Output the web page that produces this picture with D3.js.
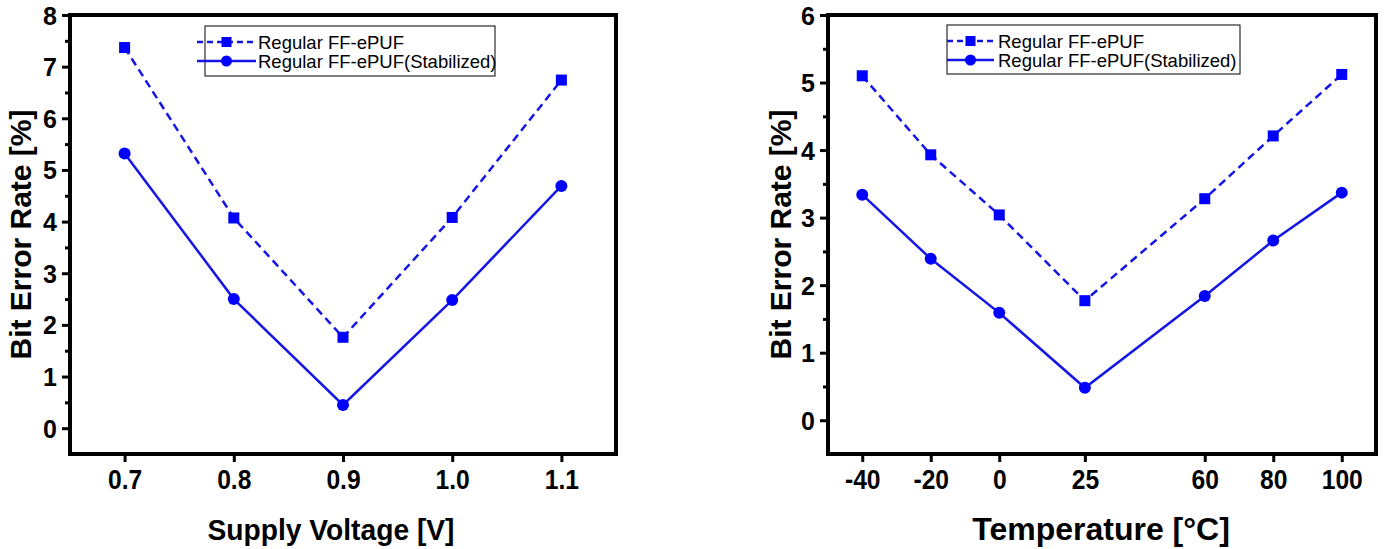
<!DOCTYPE html>
<html><head><meta charset="utf-8">
<script src="https://cdn.jsdelivr.net/npm/d3@7"></script>
<style>body{margin:0;background:#fff}svg{display:block}text{font-family:"Liberation Sans",Arial,sans-serif}</style>
</head><body><svg id="c" width="1384" height="549"></svg>
<script>
const voltages = [0.7, 0.8, 0.9, 1.0, 1.1];
const voltTickLabels = ["0.7", "0.8", "0.9", "1.0", "1.1"];
const voltRegular = [7.37, 4.07, 1.76, 4.08, 6.74];
const voltStabilized = [5.32, 2.50, 0.45, 2.48, 4.69];

const temps = [-40, -20, 0, 25, 60, 80, 100];
const tempTickLabels = ["-40", "-20", "0", "25", "60", "80", "100"];
const tempRegular = [5.10, 3.93, 3.04, 1.77, 3.28, 4.21, 5.12];
const tempStabilized = [3.34, 2.39, 1.59, 0.48, 1.84, 2.66, 3.37];

const seriesNames = ["Regular FF-ePUF", "Regular FF-ePUF(Stabilized)"];

const svg = d3.select("#c");
const blue = "#0000ff", lineBlue = "#1515e6";

function panel(o) {
  const g = svg.append("g");
  const x = d3.scaleLinear().domain(o.xDomain).range([o.left, o.right]);
  const y = d3.scaleLinear().domain(o.yDomain).range([o.bottom, o.top]);

  const yAxisMinor = d3.axisLeft(y).tickValues(d3.range(0.5, o.yDomain[1], 1))
    .tickSize(5).tickFormat("");
  g.append("g").attr("transform", `translate(${o.left},0)`).call(yAxisMinor)
    .call(a => a.select(".domain").remove())
    .call(a => a.selectAll("line").attr("stroke", "#000").attr("stroke-width", 3));
  const yAxis = d3.axisLeft(y).tickValues(d3.range(0, o.yDomain[1] + 0.001, 1)).tickSize(8).tickPadding(5).tickFormat(d3.format("d"));
  g.append("g").attr("transform", `translate(${o.left},0)`).call(yAxis)
    .call(a => a.select(".domain").remove())
    .call(a => a.selectAll("line").attr("stroke", "#000").attr("stroke-width", 3))
    .call(a => a.selectAll("text").attr("font-size", 25).attr("font-weight", "bold").attr("fill", "#000").attr("dy", "0.36em"));

  const xAxis = d3.axisBottom(x).tickValues(o.xs).tickSize(8).tickPadding(7).tickFormat((d, i) => o.xLabels[i]);
  g.append("g").attr("transform", `translate(0,${o.bottom})`).call(xAxis)
    .call(a => a.select(".domain").remove())
    .call(a => a.selectAll("line").attr("stroke", "#000").attr("stroke-width", 3))
    .call(a => a.selectAll("text").attr("font-size", 28).attr("font-weight", "bold").attr("fill", "#000")
      .attr("transform", "scale(0.88,1)"));

  g.append("rect").attr("x", o.left).attr("y", o.top).attr("width", o.right - o.left).attr("height", o.bottom - o.top)
    .attr("fill", "none").attr("stroke", "#000").attr("stroke-width", 4);

  const line = d3.line().x((d, i) => x(o.xs[i])).y(d => y(d));
  g.append("path").datum(o.reg).attr("d", line).attr("fill", "none").attr("stroke", lineBlue)
    .attr("stroke-width", 2.5).attr("stroke-dasharray", "8,5");
  g.append("path").datum(o.stab).attr("d", line).attr("fill", "none").attr("stroke", lineBlue).attr("stroke-width", 2.5);
  g.selectAll(".sq").data(o.reg).join("rect").attr("x", (d, i) => x(o.xs[i]) - 5.5).attr("y", d => y(d) - 5.5)
    .attr("width", 11).attr("height", 11).attr("fill", blue);
  g.selectAll(".ci").data(o.stab).join("circle").attr("cx", (d, i) => x(o.xs[i])).attr("cy", d => y(d))
    .attr("r", 6).attr("fill", blue);

  g.append("text").attr("transform", `translate(${o.xTitleX},540) scale(${o.xTitleScale},1)`).attr("text-anchor", "middle")
    .attr("font-size", o.xTitleSize).attr("font-weight", "bold").text(o.xTitle);
  g.append("text").attr("transform", `translate(${o.yTitleX},${(o.top + o.bottom) / 2}) rotate(-90)`)
    .attr("text-anchor", "middle").attr("font-size", 30).attr("font-weight", "bold").text("Bit Error Rate [%]");

  const L = o.legend;
  g.append("rect").attr("x", L.x).attr("y", L.y).attr("width", L.w).attr("height", L.h)
    .attr("fill", "#fff").attr("stroke", "#000").attr("stroke-width", 1);
  seriesNames.forEach((name, i) => {
    const cy = L.y + 16 + i * 19;
    g.append("line").attr("x1", L.lx1).attr("x2", L.lx2).attr("y1", cy).attr("y2", cy)
      .attr("stroke", lineBlue).attr("stroke-width", 2.5).attr("stroke-dasharray", i === 0 ? "6,4" : null);
    const mx = (L.lx1 + L.lx2) / 2;
    if (i === 0) g.append("rect").attr("x", mx - 5).attr("y", cy - 5).attr("width", 10).attr("height", 10).attr("fill", blue);
    else g.append("circle").attr("cx", mx).attr("cy", cy).attr("r", 5.5).attr("fill", blue);
    g.append("text").attr("x", L.tx).attr("y", cy).attr("dy", "0.36em").attr("font-size", 18.5).text(name);
  });
}

panel({
  left: 70, right: 616, top: 15, bottom: 454,
  xDomain: [0.65, 1.15], yDomain: [-0.5, 8],
  xs: voltages, xLabels: voltTickLabels, reg: voltRegular, stab: voltStabilized,
  xTitle: "Supply Voltage [V]", xTitleX: 331, xTitleSize: 30, xTitleScale: 0.94, yTitleX: 31,
  legend: {x: 205, y: 26, w: 290, h: 50, lx1: 197, lx2: 256, tx: 258}
});
panel({
  left: 828, right: 1376, top: 15, bottom: 454,
  xDomain: [-50, 110], yDomain: [-0.5, 6],
  xs: temps, xLabels: tempTickLabels, reg: tempRegular, stab: tempStabilized,
  xTitle: "Temperature [°C]", xTitleX: 1101, xTitleSize: 32, xTitleScale: 1, yTitleX: 791,
  legend: {x: 947, y: 25, w: 293, h: 49, lx1: 947, lx2: 994, tx: 998}
});
</script></body></html>
